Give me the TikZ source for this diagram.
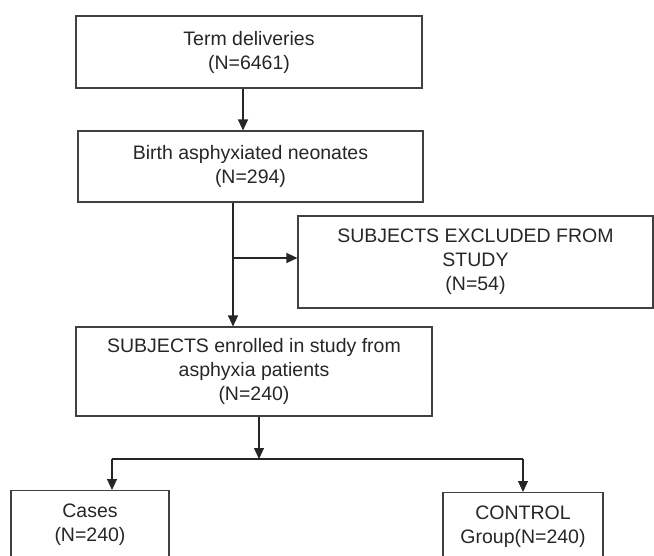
\documentclass[tikz,border=0pt]{standalone}
\usepackage{fontspec}
\setmainfont{Liberation Sans}
\usetikzlibrary{arrows.meta}
\tikzset{
	flowbox/.style={draw=black!75, line width=1.1pt, align=center, text=black!85,
		font=\fontsize{19.5}{24}\selectfont, inner sep=0pt},
	flowline/.style={draw=black!85, line width=1.1pt},
	flowarrow/.style={flowline, -{Triangle[width=10pt,length=11pt]}}
}

\begin{document}
\begin{tikzpicture}[x=1pt,y=-1pt]
					\useasboundingbox (0,0) rectangle (654,555);
					\node[flowbox, minimum width=346pt, minimum height=72pt] (term) at (249,52) {Term deliveries\\(N=6461)};
					\node[flowbox, minimum width=345pt, minimum height=71pt] (birth) at (250.5,166.5) {Birth asphyxiated neonates\\(N=294)};
					\node[flowbox, minimum width=355pt, minimum height=92pt] (excl) at (475.5,262) {SUBJECTS EXCLUDED FROM\\STUDY\\(N=54)};
					\node[flowbox, minimum width=356pt, minimum height=89pt] (enrol) at (254,371.5) {SUBJECTS enrolled in study from\\asphyxia patients\\(N=240)};
					\node[flowbox, anchor=north, minimum width=158pt, minimum height=68pt] (cases) at (90,490) {Cases\\(N=240)};
					\node[flowbox, anchor=north, minimum width=160pt, minimum height=68pt] (control) at (523,492) {CONTROL\\Group(N=240)};
					% connectors
					\coordinate (split) at (233,258);
					\coordinate (fork) at (259,459);
					\coordinate (forkL) at (112,459);
					\coordinate (forkR) at (523,459);
					\draw[flowarrow] ([xshift=-6pt]term.south) -- ([xshift=-6pt]term.south |- birth.north);
					\draw[flowarrow] (birth.south -| split) -- (enrol.north -| split);
					\draw[flowarrow] (split) -- (split -| excl.west);
					\draw[flowarrow] (enrol.south -| fork) -- (fork);
					\draw[flowline] (forkL) -- (forkR);
					\draw[flowarrow] (forkL) -- (forkL |- cases.north);
					\draw[flowarrow] (forkR) -- (control.north);
				\end{tikzpicture}
\end{document}
